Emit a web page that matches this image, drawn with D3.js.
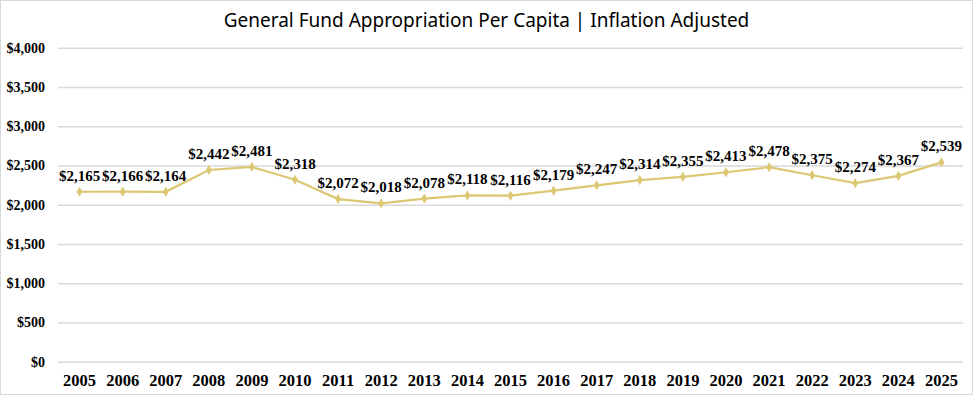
<!DOCTYPE html>
<html>
<head>
<meta charset="utf-8">
<script src="https://cdn.jsdelivr.net/npm/d3@7"></script>
<style>
  body { margin: 0; background: #fff; }
  svg { display: block; }
</style>
</head>
<body>
<script>
// values
const years = ["2005", "2006", "2007", "2008", "2009", "2010", "2011", "2012", "2013", "2014",
    "2015", "2016", "2017", "2018", "2019", "2020", "2021", "2022", "2023", "2024", "2025"];
const perCapita = [2165, 2166, 2164, 2442, 2481, 2318, 2072, 2018, 2078, 2118,
    2116, 2179, 2247, 2314, 2355, 2413, 2478, 2375, 2274, 2367, 2539];
const yTicks = [0, 500, 1000, 1500, 2000, 2500, 3000, 3500, 4000];

const w = 973;
const h = 395;
const serif = "'Liberation Serif', 'Times New Roman', serif";
const gold = "#dcc774";

const svg = d3.select("body")
    .append("svg")
        .attr("width", w)
        .attr("height", h)

// light frame round the chart
svg.append("rect")
    .attr("x", 0.5)
    .attr("y", 0.5)
    .attr("width", w - 1)
    .attr("height", h - 1)
    .attr("fill", "#fff")
    .attr("stroke", "#d9d9d9")

const x = d3.scaleBand()
    .domain(years)
    .range([58, 963])

const y = d3.scaleLinear()
    .domain([0, 4000])
    .range([361.7, 47.7])

const fmt = d3.format("$,")

// gridlines + y labels
const yAxis = svg.append("g")
    .attr("transform", "translate(58,0)")
    .call(d3.axisLeft(y).tickValues(yTicks).tickSize(-(963 - 58)).tickPadding(13).tickFormat(fmt))
yAxis.select(".domain").remove()
yAxis.selectAll(".tick line")
    .attr("stroke", "#d9d9d9")
    .attr("stroke-width", 1.5)
yAxis.selectAll(".tick text")
    .attr("font-family", serif)
    .attr("font-weight", "bold")
    .attr("font-size", "14px")
    .attr("fill", "#000")

// x labels
const xAxis = svg.append("g")
    .attr("transform", "translate(0,362)")
    .call(d3.axisBottom(x).tickSize(0).tickPadding(12))
xAxis.select(".domain").remove()
xAxis.selectAll(".tick text")
    .attr("font-family", serif)
    .attr("font-weight", "bold")
    .attr("font-size", "16.5px")
    .attr("fill", "#000")

const cx = (d, i) => x(years[i]) + x.bandwidth() / 2;

const line = d3.line()
    .x(cx)
    .y(d => y(d))

svg.append("path")
    .datum(perCapita)
    .attr("fill", "none")
    .attr("stroke", gold)
    .attr("stroke-width", 2.2)
    .attr("d", line)

svg.append("g")
    .selectAll("path")
    .data(perCapita)
    .enter()
    .append("path")
        .attr("d", d3.symbol(d3.symbolDiamond, 30))
        .attr("transform", (d, i) => "translate(" + cx(d, i) + "," + y(d) + ")")
        .attr("fill", gold)

svg.append("g")
    .selectAll("text")
    .data(perCapita)
    .enter()
    .append("text")
        .attr("x", cx)
        .attr("y", d => y(d) - 11)
        .attr("text-anchor", "middle")
        .attr("font-family", serif)
        .attr("font-weight", "bold")
        .attr("font-size", "15px")
        .attr("fill", "#000")
        .text(d => fmt(d))

svg.append("text")
    .attr("x", w / 2)
    .attr("y", 27)
    .attr("text-anchor", "middle")
    .attr("font-family", "'Noto Sans', sans-serif")
    .attr("font-size", "19px")
    .attr("fill", "#000")
    .text("General Fund Appropriation Per Capita | Inflation Adjusted")
</script>
</body>
</html>
